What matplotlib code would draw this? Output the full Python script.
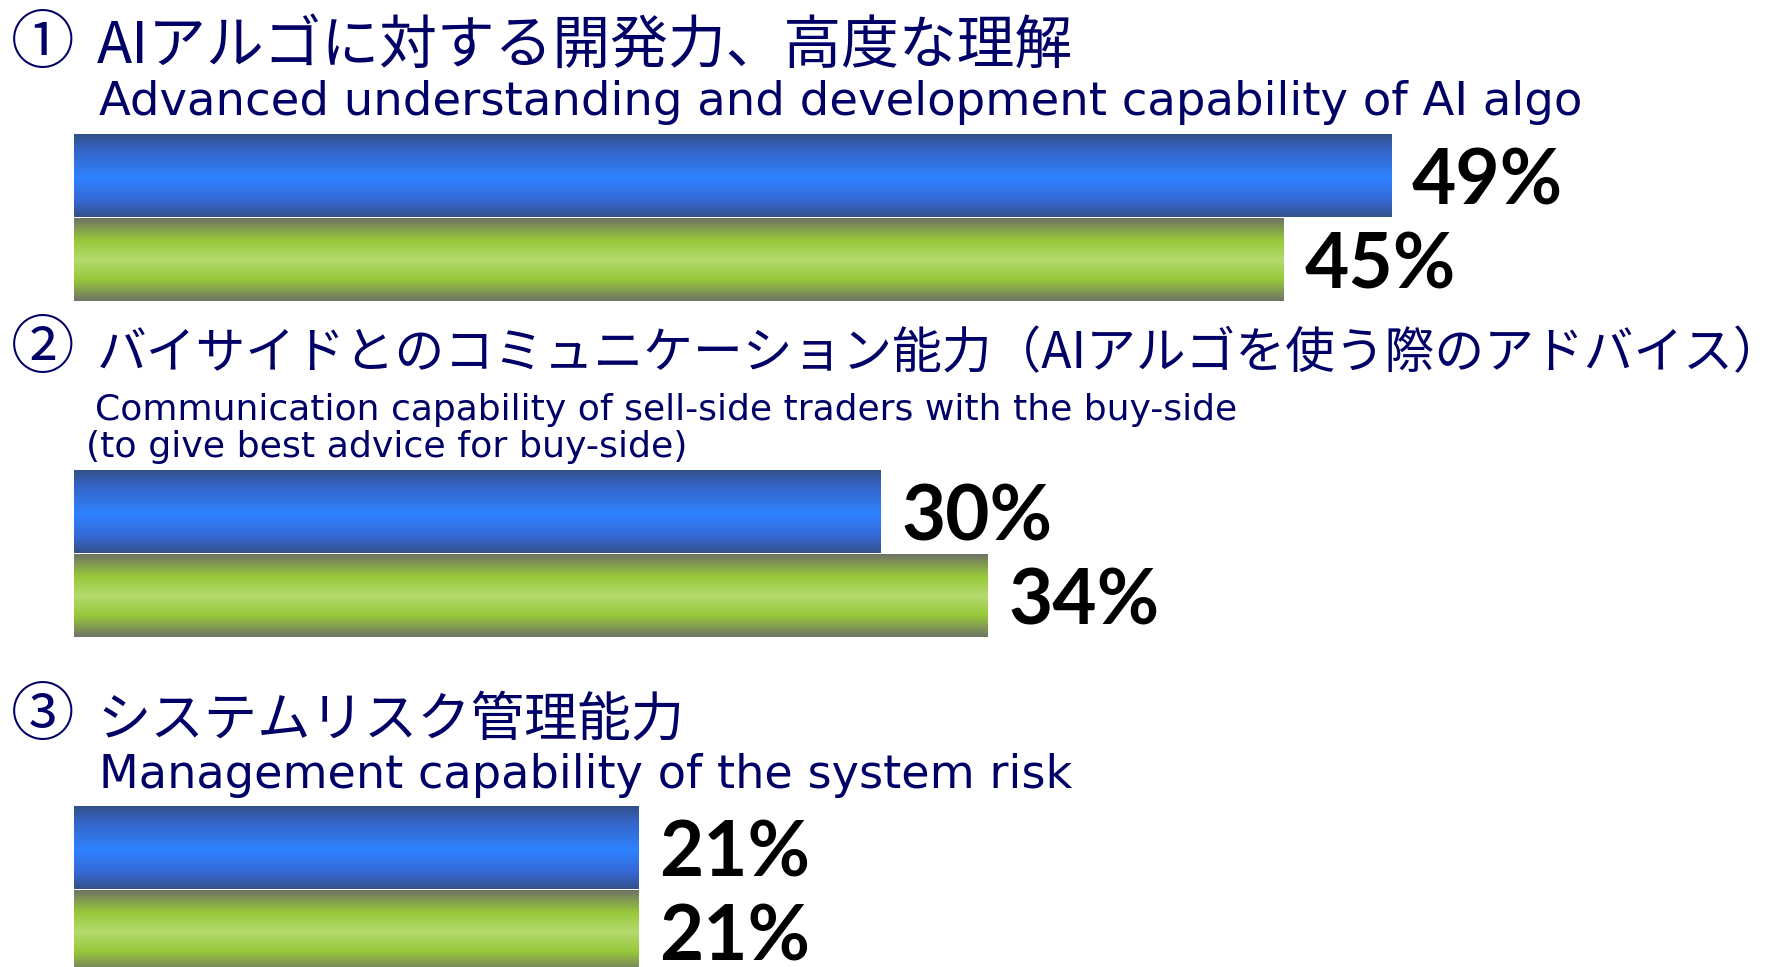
import numpy as np
import matplotlib
matplotlib.use("Agg")
import matplotlib.pyplot as plt
import matplotlib.transforms as mtransforms

# ---- data ----
markers = ["①", "②", "③"]
titles_ja = [
    "AIアルゴに対する開発力、高度な理解",
    "バイサイドとのコミュニケーション能力（AIアルゴを使う際のアドバイス）",
    "システムリスク管理能力",
]
subtitles_en = [
    ["Advanced understanding and development capability of AI algo"],
    ["Communication capability of sell-side traders with the buy-side",
     "(to give best advice for buy-side)"],
    ["Management capability of the system risk"],
]
blue_pct = [49, 30, 21]
green_pct = [45, 34, 21]

# ---- layout (pixels, origin top-left) ----
W, H = 1790, 967
bar_left_px = 74
px_per_pct = 26.88
group_top = [134, 470, 806]
bar_h = 83
bar_gap = 1

title_x = 97
title_right = [1073, 1783, 683]
title_base = [63, 368, 735]
marker_x = 11
en_x = [[99], [95, 86], [99]]
en_right = [[1581], [1239, 687], [1073]]
en_base = [[115], [420, 457], [788]]

navy = "#000066"
ja_font = ["Noto Sans CJK JP", "DejaVu Sans"]
en_font = ["DejaVu Sans"]
num_font = ["Lato", "DejaVu Sans"]

fig = plt.figure(figsize=(W / 100, H / 100), dpi=100)
ax = fig.add_axes([0, 0, 1, 1])
ax.set_xlim(-bar_left_px / px_per_pct, (W - bar_left_px) / px_per_pct)
ax.set_ylim(H, 0)
ax.axis("off")

pix = mtransforms.Affine2D().scale(1 / W, -1 / H).translate(0, 1) + fig.transFigure


def gradient_rows(stops, n=256):
    pos = np.array([s[0] for s in stops])
    cols = np.array([matplotlib.colors.to_rgb(s[1]) for s in stops])
    t = np.linspace(0, 1, n)
    rgb = np.stack([np.interp(t, pos, cols[:, k]) for k in range(3)], axis=1)
    return rgb[:, None, :]


blue_grad = gradient_rows([(0.0, "#32508a"), (0.2, "#3565c8"), (0.53, "#2e82ff"),
                           (0.8, "#3668d4"), (1.0, "#32508a")])
green_grad = gradient_rows([(0.0, "#6e7366"), (0.27, "#98c93a"), (0.5, "#b4da6e"),
                            (0.74, "#98c93a"), (1.0, "#6e7366")])


def gradient_bar(y_top, value, grad):
    yc = y_top + bar_h / 2
    bars = ax.barh([yc], [value], height=bar_h, left=0, color="none", linewidth=0)
    patch = bars.patches[0]
    im = ax.imshow(grad, extent=(0, value, y_top + bar_h, y_top), aspect="auto",
                   interpolation="bilinear", zorder=2)
    im.set_clip_path(patch)
    ax.annotate(f"{value}%", xy=(value, yc), xytext=(21, -29),
                textcoords="offset pixels", ha="left", va="baseline",
                fontsize=55, fontweight="bold", family=num_font, color="black",
                zorder=3)


fig.canvas.draw()
renderer = fig.canvas.get_renderer()


def fit_text(x0, x1, y, s, family, **kw):
    t = fig.text(x0, y, s, transform=pix, fontsize=20, family=family,
                 ha="left", va="baseline", color=navy, **kw)
    w = t.get_window_extent(renderer).width
    t.set_fontsize(20 * (x1 - x0) / w)
    return t


marker_size = None
for i in range(3):
    gradient_bar(group_top[i], blue_pct[i], blue_grad)
    gradient_bar(group_top[i] + bar_h + bar_gap, green_pct[i], green_grad)

    title = fit_text(title_x, title_right[i], title_base[i], titles_ja[i], ja_font)
    if marker_size is None:
        marker_size = title.get_fontsize() * 1.1
    fig.text(marker_x, title_base[i], markers[i], transform=pix,
             fontsize=marker_size, family=ja_font,
             ha="left", va="baseline", color=navy)
    for j, line in enumerate(subtitles_en[i]):
        fit_text(en_x[i][j], en_right[i][j], en_base[i][j], line, en_font)

fig.savefig("out.png", dpi=100)
